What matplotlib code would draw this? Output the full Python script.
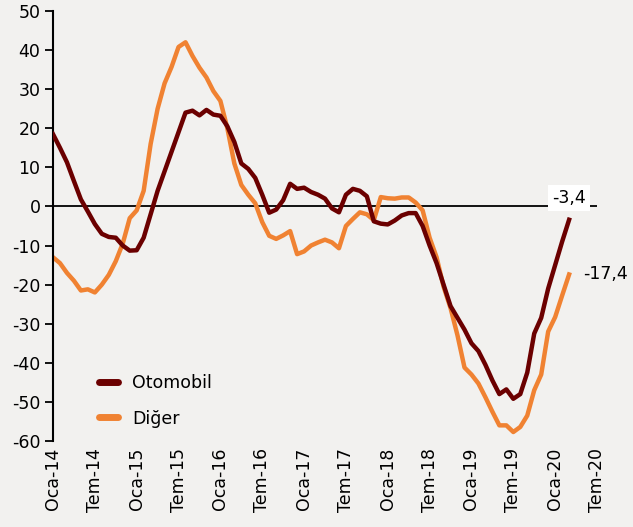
import numpy as np
import pandas as pd
import matplotlib
matplotlib.use("Agg")
import matplotlib.pyplot as plt

# monthly values, Oca-14 .. Mar-20
otomobil = [18.5, 15, 11.3, 6.5, 1.8, -1.3, -4.5, -7, -7.8, -8.0,
            -10, -11.3, -11.2, -8, -2, 4, 9, 14, 19, 24,
            24.5, 23.3, 24.7, 23.5, 23.2, 20.5, 16.5, 11, 9.6, 7.3,
            3, -1.6, -0.8, 1.6, 5.8, 4.5, 4.8, 3.7, 3.0, 2.0,
            -0.5, -1.5, 3, 4.5, 4, 2.6, -3.8, -4.4, -4.6, -3.6,
            -2.3, -1.7, -1.7, -5, -10, -14.5, -20, -25.5, -28.5, -31.5,
            -35, -37, -40.5, -44.5, -48, -46.8, -49.2, -48, -42.5, -32.5,
            -28.5, -21, -15, -9, -3.4]
diger = [-13, -14.5, -17, -19, -21.5, -21.2, -22, -20, -17.5, -14,
         -9.5, -3, -1, 4, 16, 25, 31.5, 35.7, 40.8, 42,
         38.5, 35.5, 33, 29.5, 27, 20, 11, 5.5, 3, 0.8,
         -4, -7.5, -8.3, -7.4, -6.3, -12.2, -11.5, -10, -9.2, -8.5,
         -9.2, -10.7, -5, -3.2, -1.5, -2, -3.5, 2.4, 2.1, 2.0,
         2.3, 2.3, 1, -1, -8, -13, -20.5, -26, -33, -41.2,
         -43, -45.3, -48.8, -52.5, -56, -56, -57.7, -56.4, -53.5, -47,
         -43, -32, -28.3, -22.8, -17.4]
tick_labels = ["Oca-14", "Tem-14", "Oca-15", "Tem-15", "Oca-16", "Tem-16",
               "Oca-17", "Tem-17", "Oca-18", "Tem-18", "Oca-19", "Tem-19",
               "Oca-20", "Tem-20"]

bg = "#F2F1EF"
dark = "#6B0000"
orange = "#F08232"
plt.rcParams["font.family"] = ["DejaVu Sans"]
plt.rcParams["axes.unicode_minus"] = False

fig = plt.figure(figsize=(6.33, 5.27), dpi=100, facecolor=bg)
ax = fig.add_axes([53 / 633, 1 - 441 / 527, 544 / 633, 430 / 527])
ax.set_facecolor(bg)

x = np.arange(len(otomobil))
ax.axhline(0, color="black", lw=1.3, zorder=1)
ax.plot(x, otomobil, color=dark, lw=3.2, label="Otomobil", zorder=3)
ax.plot(x, diger, color=orange, lw=3.2, label="Diğer", zorder=2)

ax.set_xlim(0, 78)
ax.set_ylim(-60, 50)
ax.set_yticks(range(-60, 51, 10))
ax.set_xticks(range(0, 79, 6))
ax.set_xticklabels(tick_labels, rotation=90)
ax.tick_params(axis="y", direction="out", length=6, width=1.3, labelsize=12.5, pad=3)
ax.tick_params(axis="x", length=0, labelsize=12.5, pad=5)

for s in ["top", "right", "bottom"]:
    ax.spines[s].set_visible(False)
ax.spines["left"].set_linewidth(1.5)

ax.annotate("-3,4", (x[-1], otomobil[-1]), xytext=(0, 9), textcoords="offset points",
            ha="center", va="bottom", fontsize=12.5,
            bbox=dict(facecolor="white", edgecolor="none", pad=3))
ax.annotate("-17,4", (x[-1], diger[-1]), xytext=(10, 0), textcoords="offset points",
            ha="left", va="center", fontsize=12.5, annotation_clip=False)

leg = ax.legend(loc="lower left", bbox_to_anchor=(0.055, -0.005), frameon=False,
                fontsize=12.5, handlelength=1.1, handletextpad=0.85, labelspacing=1.0)
for h in leg.legend_handles:
    h.set_linewidth(5)
    h.set_solid_capstyle("round")

fig.savefig("out.png", dpi=100, facecolor=bg)
